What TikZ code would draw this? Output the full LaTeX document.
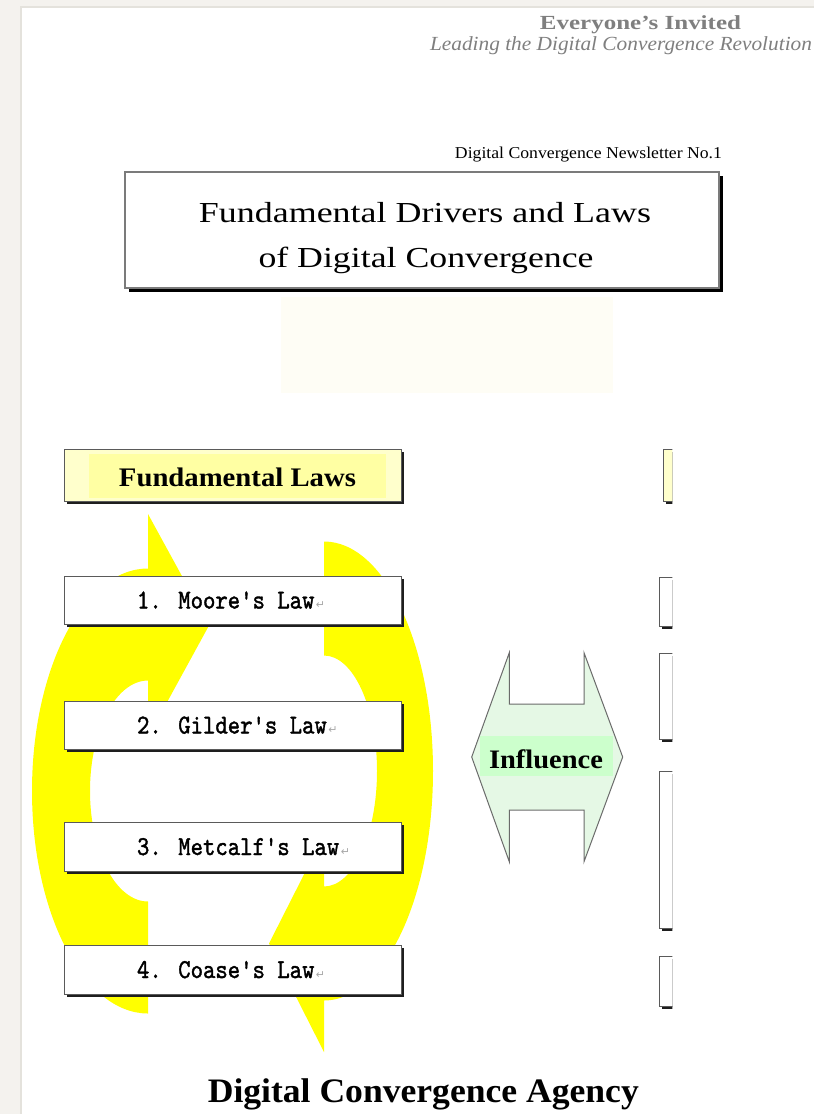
\documentclass[tikz,border=0pt]{standalone}
\usepackage{fontspec}
\setmainfont{Liberation Serif}
\newfontfamily\lawfont{lmmono10-regular}[Extension=.otf, FakeBold=1.5]
\newfontfamily\symfont{DejaVu Sans}
\usetikzlibrary{shadows}

\definecolor{pagegray}{HTML}{F4F2EE}
\definecolor{pageedge}{HTML}{E4E2DC}
\definecolor{headgray}{HTML}{7F7F7F}
\definecolor{boxedge}{HTML}{5A5A5A}
\definecolor{shadowc}{HTML}{1E1E1E}
\definecolor{lawyellow}{HTML}{FFFFCC}
\definecolor{lawyellowin}{HTML}{FFFFA3}
\definecolor{ringyellow}{HTML}{FFFF00}
\definecolor{inflgreen}{HTML}{E5F8E5}
\definecolor{inflband}{HTML}{CCFFCC}
\definecolor{retgray}{HTML}{A8A8A8}
\definecolor{faintpanel}{HTML}{FEFDF5}

% width-fitting helper: keeps the natural height, sets the width
\newcommand\fitw[2]{\resizebox{#1}{\height}{#2}}
\newcommand\retmark{\hspace{1.5pt}{\symfont\fontsize{11}{11}\selectfont\color{retgray}↵}}

\tikzset{
  txt/.style={inner sep=0pt, outer sep=0pt, anchor=base},
  lawtxt/.style={inner sep=0pt, outer sep=0pt, anchor=base west,
    font=\lawfont\fontsize{27.3}{27.3}\selectfont},
  lawbox/.style={draw=boxedge, line width=1pt, fill=white,
    minimum width=337pt, minimum height=48.5pt, inner sep=0pt,
    drop shadow={shadow xshift=2.5pt, shadow yshift=-2.5pt, fill=shadowc, opacity=1}},
  sidebox/.style={draw=boxedge, line width=1pt, fill=white,
    minimum width=120pt, inner sep=0pt, anchor=north west,
    drop shadow={shadow xshift=2.5pt, shadow yshift=-2.5pt, fill=shadowc, opacity=1}},
}

\begin{document}
\begin{tikzpicture}[x=1pt, y=1pt]
\useasboundingbox (0,0) rectangle (814,-1114);

% page and surrounding frame
\fill[pagegray] (0,0) rectangle (814,-1114);
\fill[white] (21,-7) rectangle (814,-1114);
\draw[pageedge, line width=1.2pt] (21,-1114) -- (21,-7) -- (814,-7);

% header
\node[txt, text=headgray, font=\fontsize{20}{20}\selectfont\bfseries]
  (invited) at (640.5,-29.3) {\fitw{201pt}{Everyone's Invited}};
\node[txt, anchor=base west, text=headgray, font=\fontsize{20}{20}\selectfont\itshape]
  (leading) at (430,-50) {\fitw{382pt}{Leading the Digital Convergence Revolution}};

\node[txt, anchor=base east, font=\fontsize{16.6}{16.6}\selectfont]
  (issue) at (722,-158.3) {\fitw{267pt}{Digital Convergence Newsletter No.1}};

% title panel
\node[draw=boxedge!80, line width=1.2pt, fill=white, minimum width=594pt,
  minimum height=116pt, inner sep=0pt,
  drop shadow={shadow xshift=3.5pt, shadow yshift=-3.5pt, fill=black, opacity=1}]
  (titlebox) at (422,-230) {};
\node[txt, font=\fontsize{29}{29}\selectfont] (title1) at (425,-222.7)
  {\fitw{452pt}{Fundamental Drivers and Laws}};
\node[txt, font=\fontsize{29}{29}\selectfont] (title2) at (426,-267.5)
  {\fitw{335pt}{of Digital Convergence}};

% faint panel under the title
\fill[faintpanel] (281,-297) rectangle (613,-393);

% circular yellow arrows (clockwise)
\fill[ringyellow]
  (148,-568.5) arc[start angle=90, end angle=270, x radius=116, y radius=222.5]
  -- (148,-901.5) arc[start angle=270, end angle=90, x radius=58, y radius=110.5]
  -- (148,-737) -- (209,-625.5) -- (148,-514) -- cycle;
\fill[ringyellow]
  (324,-541.5) arc[start angle=90, end angle=-90, x radius=109, y radius=229.5]
  -- (324,-1052) -- (269,-943.5) -- (324,-835) -- (324,-886.5)
  arc[start angle=-90, end angle=90, x radius=53, y radius=115.5] -- cycle;

% heading of the law column
\node[draw=boxedge, line width=1pt, fill=lawyellow, minimum width=337pt,
  minimum height=52pt, inner sep=0pt,
  drop shadow={shadow xshift=2.5pt, shadow yshift=-2.5pt, fill=shadowc, opacity=1}]
  (lawhead) at (232.5,-475) {};
\fill[lawyellowin] (89,-453.5) rectangle (386,-497.5);
\node[txt, font=\fontsize{26.8}{26.8}\selectfont\bfseries] (lawheadtxt)
  at (237.5,-486.7) {\fitw{237pt}{Fundamental Laws}};

% the four laws
\node[lawbox] (moorebox)   at (232.5,-600.25) {};
\node[lawbox] (gilderbox)  at (232.5,-725.25) {};
\node[lawbox] (metcalfbox) at (232.5,-846.75) {};
\node[lawbox] (coasebox)   at (232.5,-969.75) {};

\node[lawtxt] (moore)   at (137,-608.5) {\scalebox{0.864}[1]{1. Moore's Law}\retmark};
\node[lawtxt] (gilder)  at (137,-733.5) {\scalebox{0.864}[1]{2. Gilder's Law}\retmark};
\node[lawtxt] (metcalf) at (137,-855)   {\scalebox{0.864}[1]{3. Metcalf's Law}\retmark};
\node[lawtxt] (coase)   at (137,-978)   {\scalebox{0.864}[1]{4. Coase's Law}\retmark};

% influence double arrow
\filldraw[fill=inflgreen, draw=boxedge!90, line width=1pt, line join=miter]
  (471.7,-757) -- (509.3,-652.7) -- (509.3,-704) -- (584,-704) -- (584,-652.7)
  -- (622.7,-757) -- (584,-861.7) -- (584,-810) -- (509.3,-810) -- (509.3,-861.7)
  -- cycle;
\fill[inflband] (480,-736) rectangle (613,-776);
\node[txt, font=\fontsize{26.7}{26.7}\selectfont\bfseries] (influence)
  at (546,-768.3) {\fitw{114pt}{Influence}};

% second column, cut at the page fold
\begin{scope}
  \clip (640,-440) rectangle (672.3,-1012);
  \node[sidebox, fill=lawyellow, minimum height=52pt] (drvhead) at (662.5,-449) {};
  \node[sidebox, minimum height=49pt]  (drv1) at (659,-576.5) {};
  \node[sidebox, minimum height=86pt]  (drv2) at (659,-652.5) {};
  \node[sidebox, minimum height=157pt] (drv3) at (659,-770.5) {};
  \node[sidebox, minimum height=50pt]  (drv4) at (659,-955.5) {};
\end{scope}

% footer
\node[txt, font=\fontsize{34.3}{34.3}\selectfont\bfseries] (agency)
  at (423.3,-1102.7) {\fitw{431pt}{Digital Convergence Agency}};
\end{tikzpicture}
\end{document}
